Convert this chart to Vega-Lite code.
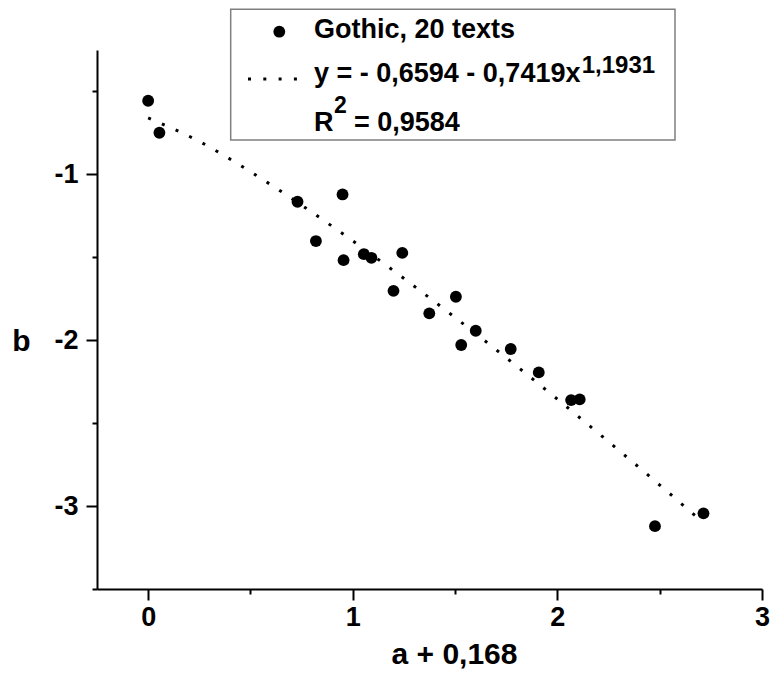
{
  "$schema": "https://vega.github.io/schema/vega-lite/v6.json",
  "width": 665,
  "height": 539,
  "autosize": {"type": "none"},
  "padding": {"left": 97, "top": 50, "right": 9, "bottom": 84},
  "background": "white",
  "config": {"view": {"stroke": null}, "font": "Liberation Sans"},
  "datasets": {
    "texts": [
      {"series": "Gothic, 20 texts", "x": 0.0, "y": -0.556},
      {"series": "Gothic, 20 texts", "x": 0.055, "y": -0.749},
      {"series": "Gothic, 20 texts", "x": 0.73, "y": -1.165},
      {"series": "Gothic, 20 texts", "x": 0.95, "y": -1.121},
      {"series": "Gothic, 20 texts", "x": 0.82, "y": -1.402},
      {"series": "Gothic, 20 texts", "x": 0.955, "y": -1.517},
      {"series": "Gothic, 20 texts", "x": 1.054, "y": -1.481},
      {"series": "Gothic, 20 texts", "x": 1.091, "y": -1.503},
      {"series": "Gothic, 20 texts", "x": 1.242, "y": -1.473},
      {"series": "Gothic, 20 texts", "x": 1.199, "y": -1.702},
      {"series": "Gothic, 20 texts", "x": 1.374, "y": -1.838},
      {"series": "Gothic, 20 texts", "x": 1.504, "y": -1.738},
      {"series": "Gothic, 20 texts", "x": 1.53, "y": -2.029},
      {"series": "Gothic, 20 texts", "x": 1.601, "y": -1.943},
      {"series": "Gothic, 20 texts", "x": 1.772, "y": -2.053},
      {"series": "Gothic, 20 texts", "x": 1.909, "y": -2.194},
      {"series": "Gothic, 20 texts", "x": 2.067, "y": -2.361},
      {"series": "Gothic, 20 texts", "x": 2.109, "y": -2.357},
      {"series": "Gothic, 20 texts", "x": 2.477, "y": -3.121},
      {"series": "Gothic, 20 texts", "x": 2.714, "y": -3.044}
    ],
    "fit": [
      {"x": 0.0, "y": -0.6594},
      {"x": 0.25, "y": -0.8013},
      {"x": 0.5, "y": -0.9839},
      {"x": 0.75, "y": -1.1858},
      {"x": 1.0, "y": -1.4013},
      {"x": 1.25, "y": -1.6276},
      {"x": 1.5, "y": -1.8629},
      {"x": 1.75, "y": -2.1059},
      {"x": 2.0, "y": -2.3557},
      {"x": 2.25, "y": -2.6117},
      {"x": 2.5, "y": -2.8731},
      {"x": 2.68, "y": -3.0646}
    ],
    "one": [{}]
  },
  "layer": [
    {
      "data": {"name": "one"},
      "mark": {"type": "rect", "fill": "white", "stroke": "#7f7f7f", "strokeWidth": 1.5},
      "encoding": {
        "x": {"datum": 0.4034, "type": "quantitative"},
        "x2": {"datum": 2.5748},
        "y": {"datum": -0.0046, "type": "quantitative"},
        "y2": {"datum": -0.7927}
      }
    },
    {
      "data": {"name": "fit"},
      "mark": {"type": "line", "color": "black", "strokeWidth": 3, "strokeDash": [3, 12], "interpolate": "monotone"},
      "encoding": {
        "x": {
          "field": "x",
          "type": "quantitative",
          "scale": {"domain": [-0.25, 3], "nice": false, "zero": false},
          "axis": {
            "values": [0, 0.5, 1, 1.5, 2, 2.5, 3],
            "labelExpr": "datum.value % 1 === 0 ? '' + datum.value : ''",
            "tickSize": {"condition": {"test": "datum.value % 1 === 0", "value": 11}, "value": 5},
            "grid": false,
            "domainColor": "black",
            "domainWidth": 2,
            "tickColor": "black",
            "tickWidth": 2,
            "labelFont": "Liberation Sans",
            "labelFontSize": 27,
            "labelFontWeight": "bold",
            "labelColor": "black",
            "labelPadding": 4,
            "labelFlush": false,
            "labelOverlap": false,
            "title": "a + 0,168",
            "titleFont": "Liberation Sans",
            "titleFontSize": 30,
            "titleFontWeight": "bold",
            "titleColor": "black",
            "titleX": 357,
            "titleY": 74,
            "titleAlign": "center",
            "titleBaseline": "alphabetic"
          }
        },
        "y": {
          "field": "y",
          "type": "quantitative",
          "scale": {"domain": [-3.5, -0.25], "nice": false, "zero": false},
          "axis": {
            "values": [-3.5, -3, -2.5, -2, -1.5, -1, -0.5],
            "labelExpr": "datum.value % 1 === 0 ? '' + datum.value : ''",
            "tickSize": {"condition": {"test": "datum.value % 1 === 0", "value": 11}, "value": 5},
            "grid": false,
            "domainColor": "black",
            "domainWidth": 2,
            "tickColor": "black",
            "tickWidth": 2,
            "labelFont": "Liberation Sans",
            "labelFontSize": 27,
            "labelFontWeight": "bold",
            "labelColor": "black",
            "labelPadding": 8,
            "labelFlush": false,
            "labelOverlap": false,
            "title": "b",
            "titleFont": "Liberation Sans",
            "titleFontSize": 30,
            "titleFontWeight": "bold",
            "titleColor": "black",
            "titleAngle": 0,
            "titleX": -76,
            "titleY": 300,
            "titleAlign": "center",
            "titleBaseline": "alphabetic"
          }
        }
      }
    },
    {
      "data": {"name": "texts"},
      "mark": {"type": "point", "shape": "circle", "filled": true, "size": 140, "opacity": 1, "color": "black"},
      "encoding": {
        "x": {"field": "x", "type": "quantitative"},
        "y": {"field": "y", "type": "quantitative"}
      }
    },
    {
      "data": {"name": "one"},
      "mark": {"type": "point", "shape": "circle", "filled": true, "size": 140, "opacity": 1, "color": "black"},
      "encoding": {
        "x": {"datum": 0.6409, "type": "quantitative"},
        "y": {"datum": -0.1397, "type": "quantitative"}
      }
    },
    {
      "data": {"name": "one"},
      "mark": {"type": "rule", "color": "black", "strokeWidth": 3, "strokeDash": [3, 12.3]},
      "encoding": {
        "x": {"datum": 0.488, "type": "quantitative"},
        "x2": {"datum": 0.7323},
        "y": {"datum": -0.4249, "type": "quantitative"}
      }
    },
    {
      "data": {"name": "one"},
      "mark": {"type": "text", "text": "Gothic, 20 texts", "font": "Liberation Sans", "fontSize": 27, "fontWeight": "bold", "align": "left", "baseline": "alphabetic", "color": "black"},
      "encoding": {
        "x": {"datum": 0.8105, "type": "quantitative"},
        "y": {"datum": -0.1795, "type": "quantitative"}
      }
    },
    {
      "data": {"name": "one"},
      "mark": {"type": "text", "text": "y = - 0,6594 - 0,7419x", "font": "Liberation Sans", "fontSize": 27, "fontWeight": "bold", "align": "left", "baseline": "alphabetic", "color": "black"},
      "encoding": {
        "x": {"datum": 0.8105, "type": "quantitative"},
        "y": {"datum": -0.4411, "type": "quantitative"}
      }
    },
    {
      "data": {"name": "one"},
      "mark": {"type": "text", "text": "1,1931", "font": "Liberation Sans", "fontSize": 24, "fontWeight": "bold", "align": "left", "baseline": "alphabetic", "color": "black"},
      "encoding": {
        "x": {"datum": 2.1188, "type": "quantitative"},
        "y": {"datum": -0.3905, "type": "quantitative"}
      }
    },
    {
      "data": {"name": "one"},
      "mark": {"type": "text", "text": "R", "font": "Liberation Sans", "fontSize": 27, "fontWeight": "bold", "align": "left", "baseline": "alphabetic", "color": "black"},
      "encoding": {
        "x": {"datum": 0.8105, "type": "quantitative"},
        "y": {"datum": -0.7414, "type": "quantitative"}
      }
    },
    {
      "data": {"name": "one"},
      "mark": {"type": "text", "text": "2", "font": "Liberation Sans", "fontSize": 23, "fontWeight": "bold", "align": "left", "baseline": "alphabetic", "color": "black"},
      "encoding": {
        "x": {"datum": 0.9083, "type": "quantitative"},
        "y": {"datum": -0.6317, "type": "quantitative"}
      }
    },
    {
      "data": {"name": "one"},
      "mark": {"type": "text", "text": "= 0,9584", "font": "Liberation Sans", "fontSize": 27, "fontWeight": "bold", "align": "left", "baseline": "alphabetic", "color": "black"},
      "encoding": {
        "x": {"datum": 1.006, "type": "quantitative"},
        "y": {"datum": -0.7414, "type": "quantitative"}
      }
    }
  ]
}
